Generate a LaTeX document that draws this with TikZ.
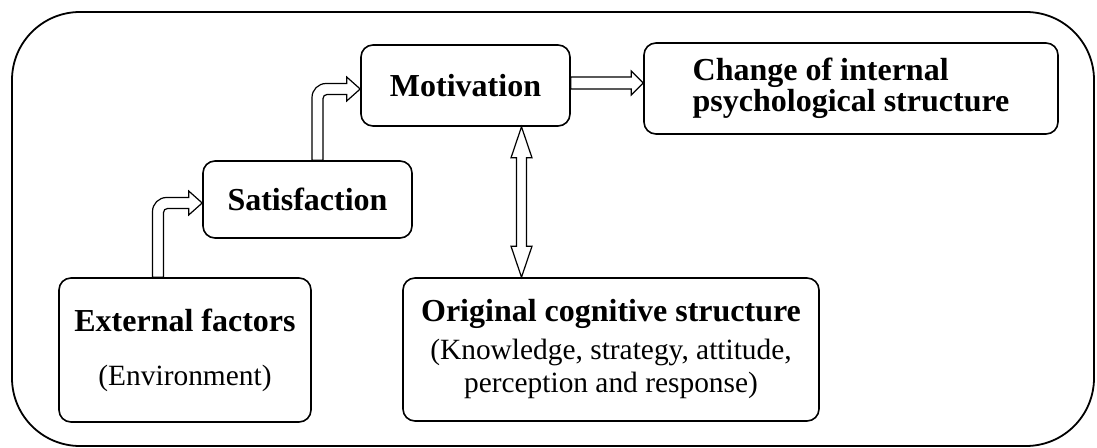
\documentclass[tikz,border=0pt]{standalone}
\usepackage{fontspec}
\setmainfont{Liberation Serif}
\usetikzlibrary{calc}

\begin{document}
\begin{tikzpicture}[x=0.5pt,y=-0.5pt,
        box/.style={draw,line width=0.8pt,rounded corners=6pt,align=center,inner sep=0pt},
        title/.style={font=\fontsize{16}{17}\selectfont\bfseries},
        blockarrow/.style={draw,line width=0.6pt,fill=white}]
        \useasboundingbox (0,0) rectangle (1097,448);

        % Frame
        \draw[line width=0.9pt,rounded corners=34pt] (12,12) rectangle (1094,446);

        % Boxes
        \node[box,title,minimum width=104.5pt,minimum height=40.5pt] (mot) at (465.5,85.5) {Motivation};
        \node[box,title,align=left,minimum width=207pt,minimum height=45.5pt] (chg) at (851,88.5) {Change of internal\\[-1.5pt]psychological structure};
        \node[box,title,minimum width=104.5pt,minimum height=38.5pt] (sat) at (307.5,199.5) {Satisfaction};
        \node[box,title,minimum width=126pt,minimum height=72pt] (ext) at (185,350) {External factors\\[10pt]{\mdseries\fontsize{14.7}{17}\selectfont (Environment)}};
        \node[box,title,minimum width=208pt,minimum height=71.5pt] (orig) at (611,349.5) {Original cognitive structure\\[2pt]{\mdseries\fontsize{14.7}{17}\selectfont (Knowledge, strategy, attitude,}\\[-0.5pt]{\mdseries\fontsize{14.7}{17}\selectfont perception and response)}};

        % External factors -> Satisfaction
        \coordinate (s1) at ($(ext.north)+(-27,0)$);
        \coordinate (t1) at ($(sat.west)+(0,3.5)$);
        \coordinate (c1) at (s1 |- t1);
        \draw[blockarrow] ($(s1)+(-5.5,0)$) -- ($(c1)+(-5.5,8.5)$) .. controls ($(c1)+(-5.5,0.8)$) and ($(c1)+(0.8,-5.5)$) .. ($(c1)+(8.5,-5.5)$)
            -- ($(t1)+(-13.5,-5.5)$) -- ($(t1)+(-13.5,-12)$) -- (t1) -- ($(t1)+(-13.5,12)$) -- ($(t1)+(-13.5,5.5)$)
            -- ($(c1)+(9.5,5.5)$) .. controls ($(c1)+(7.3,5.5)$) and ($(c1)+(5.5,7.3)$) .. ($(c1)+(5.5,9.5)$) -- ($(s1)+(5.5,0)$) -- cycle;

        % Satisfaction -> Motivation
        \coordinate (s2) at ($(sat.north)+(10,0)$);
        \coordinate (t2) at ($(mot.west)+(0,3.5)$);
        \coordinate (c2) at (s2 |- t2);
        \draw[blockarrow] ($(s2)+(-5.5,0)$) -- ($(c2)+(-5.5,8.5)$) .. controls ($(c2)+(-5.5,0.8)$) and ($(c2)+(0.8,-5.5)$) .. ($(c2)+(8.5,-5.5)$)
            -- ($(t2)+(-13.5,-5.5)$) -- ($(t2)+(-13.5,-12)$) -- (t2) -- ($(t2)+(-13.5,12)$) -- ($(t2)+(-13.5,5.5)$)
            -- ($(c2)+(9.5,5.5)$) .. controls ($(c2)+(7.3,5.5)$) and ($(c2)+(5.5,7.3)$) .. ($(c2)+(5.5,9.5)$) -- ($(s2)+(5.5,0)$) -- cycle;

        % Motivation -> Change
        \coordinate (h1) at ($(mot.east)+(0,-2.5)$);
        \coordinate (h2) at (h1 -| chg.west);
        \draw[blockarrow] ($(h1)+(0,-6)$) -- ($(h2)+(-12,-6)$) -- ($(h2)+(-12,-12)$) -- (h2) -- ($(h2)+(-12,12)$) -- ($(h2)+(-12,6)$) -- ($(h1)+(0,6)$) -- cycle;

        % Motivation <-> Original cognitive structure
        \coordinate (d1) at ($(mot.south)+(56,0)$);
        \coordinate (d2) at (d1 |- orig.north);
        \draw[blockarrow] (d1) -- ($(d1)+(10.5,31)$) -- ($(d1)+(5,31)$) -- ($(d2)+(5,-31)$) -- ($(d2)+(10.5,-31)$) -- (d2)
            -- ($(d2)+(-10.5,-31)$) -- ($(d2)+(-5,-31)$) -- ($(d1)+(-5,31)$) -- ($(d1)+(-10.5,31)$) -- cycle;

\end{tikzpicture}
\end{document}
